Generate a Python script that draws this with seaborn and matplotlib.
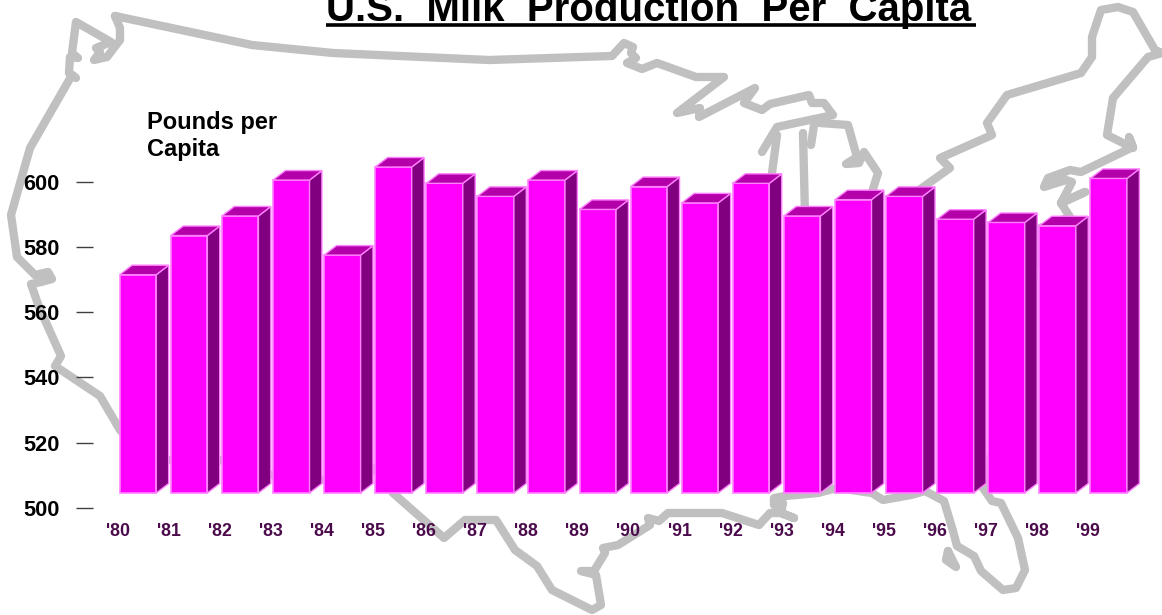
import matplotlib
matplotlib.use("Agg")
import matplotlib.pyplot as plt
from matplotlib.patches import Polygon
import seaborn as sns
import pandas as pd

years = ["'80", "'81", "'82", "'83", "'84", "'85", "'86", "'87", "'88", "'89",
         "'90", "'91", "'92", "'93", "'94", "'95", "'96", "'97", "'98", "'99"]
pounds = [571.5, 583.5, 589.5, 600.5, 577.5, 604.5, 599.5, 595.5, 600.5, 591.5,
          598.5, 593.5, 599.5, 589.5, 594.5, 595.5, 588.5, 587.5, 586.5, 601.0]
y_ticks = [500, 520, 540, 560, 580, 600]
title_text = "U.S.  Milk  Production  Per  Capita"
unit_lines = ["Pounds per", "Capita"]

# Decorative map outline, in picture pixels
map_main = [(115,16),(252,45),(333,53),(489,60),(581,57),(612,56),(624,43),(633,47),(631,53),(636,58),
            (627,63),(642,69),(657,63),(696,77),(724,77),(677,113),(700,108),(699,117),(755,88),(744,103),
            (762,110),(770,104),(809,95),(812,103),(824,103),(833,115),(777,127),(762,152)]
map_lake_left = [(777,135),(772,173),(772,215)]
map_lake_right = [(803,133),(805,215)]
map_stub = [(814,125),(811,145)]
map_michigan = [(820,123),(848,125),(857,157),(846,164),(859,163),(864,152),(878,173),(868,205)]
map_east = [(905,200),(950,168),(940,158),(992,135),(987,123),(1007,95),(1081,73),(1092,57),(1092,37),(1101,10),
            (1118,7),(1133,12),(1155,50),(1162,53),(1148,57),(1113,98),(1107,135),(1133,148),(1129,137),(1133,147),
            (1081,172),(1070,170),(1048,178),(1044,187),(1066,180),(1072,182),(1061,203),(1085,192),(1061,203),(1070,217),
            (1040,228),(1030,300),(983,488),(992,501),(1001,503),(1018,538),(1025,570),(1016,588),(1003,590),(981,571),
            (974,556),(957,546),(953,531),(944,501),(925,491),(911,495),(883,500),(872,493),(837,488),(818,493),
            (785,496),(774,498),(774,505),(783,503),(781,513),(794,518),(781,513),(770,513),(759,525),(722,513),
            (668,513),(659,521),(648,518),(650,525),(618,545),(603,548),(605,553),(594,571),(581,571),(596,575),
            (601,605),(592,610),(552,590),(537,566),(515,550),(496,520),(465,520),(444,538),(393,493),(374,468),
            (325,480),(272,475),(220,460),(150,460),(120,430),(100,396),(55,366),(61,356),(44,318),(39,307),(31,284),
            (41,282),(52,279),(48,272),(35,275),(17,257),(11,215),(30,148),(72,75),(76,78),(69,73),
            (70,57),(78,58),(72,53),(76,22),(111,42),(96,48),(100,52),(94,60),(107,57),(120,40),(120,28),(115,16)]
map_island = [(948,551),(946,560),(956,567),(948,551)]
map_parts = [map_main, map_lake_left, map_lake_right, map_stub, map_michigan, map_east, map_island]

W, H = 1162, 615
PX_PER_UNIT = (508 - 181.7) / 100
PITCH = 51.09
BAR_W = 36.5
CENTER0 = 138.0
AX_LEFT = 92.6
BASE = 504.6
DX = 12.4 / PITCH
DY = 9.5 / PX_PER_UNIT

sns.set_style("white")
plt.rcParams["font.family"] = ["Liberation Sans", "DejaVu Sans"]

fig = plt.figure(figsize=(W / 100, H / 100), dpi=100, facecolor="white")

bg = fig.add_axes([0, 0, 1, 1], zorder=0)
bg.set_xlim(0, W)
bg.set_ylim(H, 0)
bg.axis("off")
for part in map_parts:
    xs, ys = zip(*part)
    bg.plot(xs, ys, color="#C0C0C0", lw=6.0, solid_joinstyle="round", solid_capstyle="round")

ax = fig.add_axes([AX_LEFT / W, (H - 508) / H, (W - AX_LEFT) / W, 508 / H], zorder=1)
ax.patch.set_alpha(0)
df = pd.DataFrame({"year": years, "height": [p - BASE for p in pounds]})
sns.barplot(data=df, x="year", y="height", bottom=BASE, width=BAR_W / PITCH, gap=0,
            color="#FF00FF", saturation=1, edgecolor="#FF80FF", linewidth=1.2, ax=ax, zorder=3)
for bar in list(ax.patches):
    x0, w = bar.get_x(), bar.get_width()
    y0, top_y = bar.get_y(), bar.get_y() + bar.get_height()
    ax.add_patch(Polygon([(x0 + w, y0), (x0 + w + DX, y0 + DY), (x0 + w + DX, top_y + DY), (x0 + w, top_y)],
                         facecolor="#800080", edgecolor="#FF80FF", lw=1.0, zorder=3))
    ax.add_patch(Polygon([(x0, top_y), (x0 + w, top_y), (x0 + w + DX, top_y + DY), (x0 + DX, top_y + DY)],
                         facecolor="#B400A8", edgecolor="#FF80FF", lw=1.0, zorder=3))

ax.set_xlim((AX_LEFT - CENTER0) / PITCH, (W - CENTER0) / PITCH)
ax.set_ylim(500, 500 + 508 / PX_PER_UNIT)
ax.set_xlabel("")
ax.set_ylabel("")
ax.set_xticks([i - 0.4 for i in range(len(years))])
ax.set_xticklabels(years)
ax.set_yticks(y_ticks)
ax.tick_params(axis="x", length=0, pad=11, labelsize=12.8, labelcolor="#4B0A4B")
ax.tick_params(axis="y", left=True, length=12, width=1, color="#404040", pad=12, labelsize=15.7, labelcolor="black")
for lab in ax.get_xticklabels() + ax.get_yticklabels():
    lab.set_fontweight("bold")
sns.despine(ax=ax, left=True, bottom=True, top=True, right=True)

top = fig.add_axes([0, 0, 1, 1], zorder=2)
top.set_xlim(0, W)
top.set_ylim(H, 0)
top.axis("off")
top.text(147, 129, unit_lines[0], fontsize=17, fontweight="bold", color="black", va="baseline", ha="left")
top.text(147, 156, unit_lines[1], fontsize=17, fontweight="bold", color="black", va="baseline", ha="left")
top.text(325.5, 21, title_text, fontsize=29, fontweight="bold", color="black", va="baseline", ha="left", clip_on=False)
top.plot([325.5, 975.5], [25, 25], color="black", lw=2.6, solid_capstyle="butt")

fig.savefig("out.png", dpi=100, facecolor="white")
